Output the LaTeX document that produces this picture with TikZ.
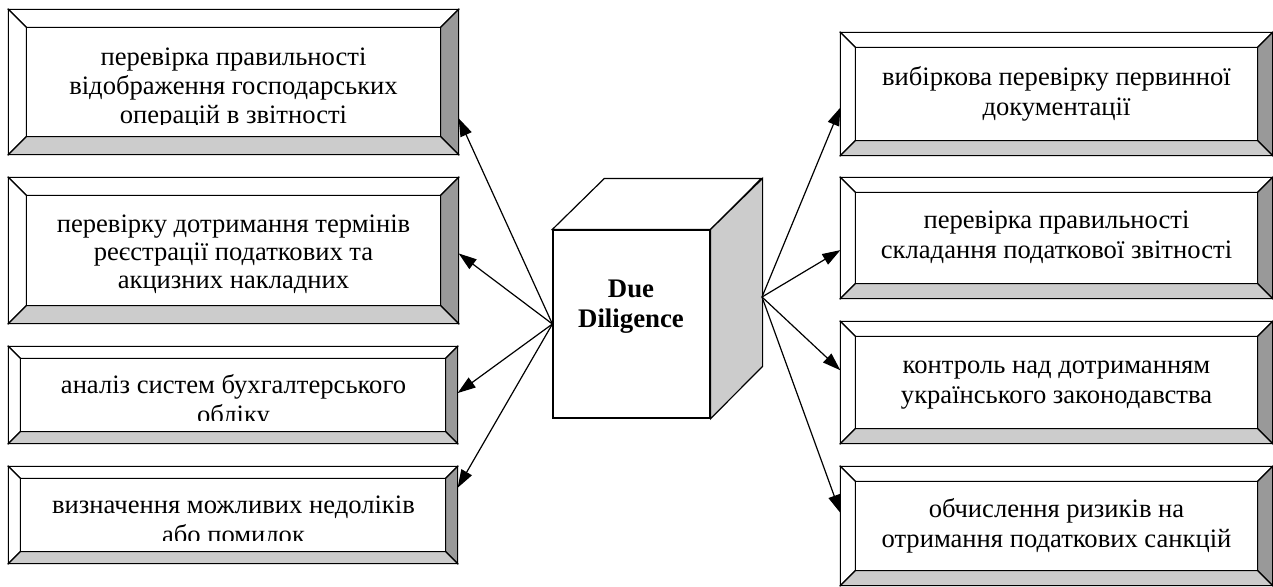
\documentclass[tikz,border=0pt]{standalone}
\usepackage{fontspec}
\setmainfont{Liberation Serif}
\usetikzlibrary{calc,arrows.meta}
\definecolor{bevdark}{HTML}{999999}
\definecolor{bevlight}{HTML}{CCCCCC}
\tikzset{
  outerbox/.style={draw, fill=white, line width=1.3pt, inner sep=0pt, rectangle},
  bevline/.style={draw, line width=1.1pt, line join=miter},
  txt/.style={anchor=base, inner sep=0pt, font=\fontsize{26.6}{28}\selectfont},
  cubetxt/.style={anchor=base, inner sep=0pt, font=\fontsize{26.8}{30}\selectfont\bfseries},
  arr/.style={line width=1.2pt, -{Triangle[length=18pt,width=12pt]}}
}
% name, x1, y1, x2, y2, bevel
\newcommand\bevbox[6]{%
  \node[outerbox, minimum width={#4-#2}, minimum height={#5-#3}] (#1) at ({(#2+#4)/2},{(#3+#5)/2}) {};
  \coordinate (#1-inw) at ($(#1.north west)+(#6,#6)$);
  \coordinate (#1-ine) at ($(#1.north east)+(-#6,#6)$);
  \coordinate (#1-isw) at ($(#1.south west)+(#6,-#6)$);
  \coordinate (#1-ise) at ($(#1.south east)+(-#6,-#6)$);
  \path[bevline, fill=white] (#1.north west) -- (#1.north east) -- (#1-ine) -- (#1-inw) -- cycle;
  \path[bevline, fill=white] (#1.north west) -- (#1-inw) -- (#1-isw) -- (#1.south west) -- cycle;
  \path[bevline, fill=bevdark] (#1.north east) -- (#1.south east) -- (#1-ise) -- (#1-ine) -- cycle;
  \path[bevline, fill=bevlight] (#1.south west) -- (#1-isw) -- (#1-ise) -- (#1.south east) -- cycle;
  \draw[line width=1.3pt] (#1.north west) rectangle (#1.south east);
  \draw[line width=1.1pt] (#1-inw) rectangle (#1-ise);
}
\begin{document}
\begin{tikzpicture}[x=1pt,y=-1pt]
\useasboundingbox (0,0) rectangle (1273,586);

% left boxes
\bevbox{L1}{9}{10}{458}{154}{18}
\bevbox{L2}{9}{178}{458}{323}{18}
\bevbox{L3}{9}{347}{457}{443}{12}
\bevbox{L4}{9}{467}{457}{563}{12}
% right boxes
\bevbox{R1}{841}{33}{1272}{155}{15}
\bevbox{R2}{841}{178}{1272}{298}{15}
\bevbox{R3}{841}{322}{1272}{443}{15}
\bevbox{R4}{841}{467}{1272}{585}{15}

% texts left
\begin{scope}
  \clip (9,28) rectangle (458,124.5);
  \node[txt] (L1a) at (233.5,66) {перевірка правильності};
  \node[txt] (L1b) at (233.5,94) {відображення господарських};
  \node[txt] (L1c) at (233.5,123) {операцій в звітності};
\end{scope}
\node[txt] (L2a) at (233.5,232) {перевірку дотримання термінів};
\node[txt] (L2b) at (233.5,260) {реєстрації податкових та};
\node[txt] (L2c) at (233.5,288) {акцизних накладних};
\begin{scope}
  \clip (9,358) rectangle (458,420);
  \node[txt] (L3a) at (233.5,393) {аналіз систем бухгалтерського};
  \node[txt] (L3b) at (233.5,423) {обліку};
\end{scope}
\begin{scope}
  \clip (9,478) rectangle (458,540);
  \node[txt] (L4a) at (233.5,513) {визначення можливих недоліків};
  \node[txt] (L4b) at (233.5,543) {або помилок};
\end{scope}

% texts right
\node[txt] (R1a) at (1056.5,85) {вибіркова перевірку первинної};
\node[txt] (R1b) at (1056.5,115) {документації};
\node[txt] (R2a) at (1056.5,228) {перевірка правильності};
\node[txt] (R2b) at (1056.5,258) {складання податкової звітності};
\node[txt] (R3a) at (1056.5,373) {контроль над дотриманням};
\node[txt] (R3b) at (1056.5,403) {українського законодавства};
\node[txt] (R4a) at (1056.5,517) {обчислення ризиків на};
\node[txt] (R4b) at (1056.5,547) {отримання податкових санкцій};

% cube
\node[draw, fill=white, line width=1.2pt, inner sep=0pt, minimum width=157, minimum height=188] (cube) at (631.5,324) {};
\draw[line width=1.2pt, fill=white, line join=miter] (cube.north west) -- ++(52,-51) -- ++(157,0) -- (cube.north east) -- cycle;
\draw[line width=1.2pt, fill=bevlight, line join=miter] (cube.north east) -- ++(52,-51) -- ++(0,188) -- (cube.south east) -- cycle;
\node[cubetxt] (due) at (631,297) {Due};
\node[cubetxt] (dil) at (631,327) {Diligence};
\coordinate (cr) at (762,297);

% arrows left
\draw[arr] (cube.west) -- ($(L1.south east)!0.25!(L1.north east)$);
\draw[arr] (cube.west) -- ($(L2.south east)!0.48!(L2.north east)$);
\draw[arr] (cube.west) -- ($(L3.south east)!0.52!(L3.north east)$);
\draw[arr] (cube.west) -- ($(L4.south east)!0.78!(L4.north east)$);
% arrows right
\draw[arr] (cr) -- ($(R1.south west)!0.39!(R1.north west)$);
\draw[arr] (cr) -- ($(R2.south west)!0.40!(R2.north west)$);
\draw[arr] (cr) -- ($(R3.south west)!0.60!(R3.north west)$);
\draw[arr] (cr) -- ($(R4.south west)!0.61!(R4.north west)$);
\end{tikzpicture}
\end{document}
